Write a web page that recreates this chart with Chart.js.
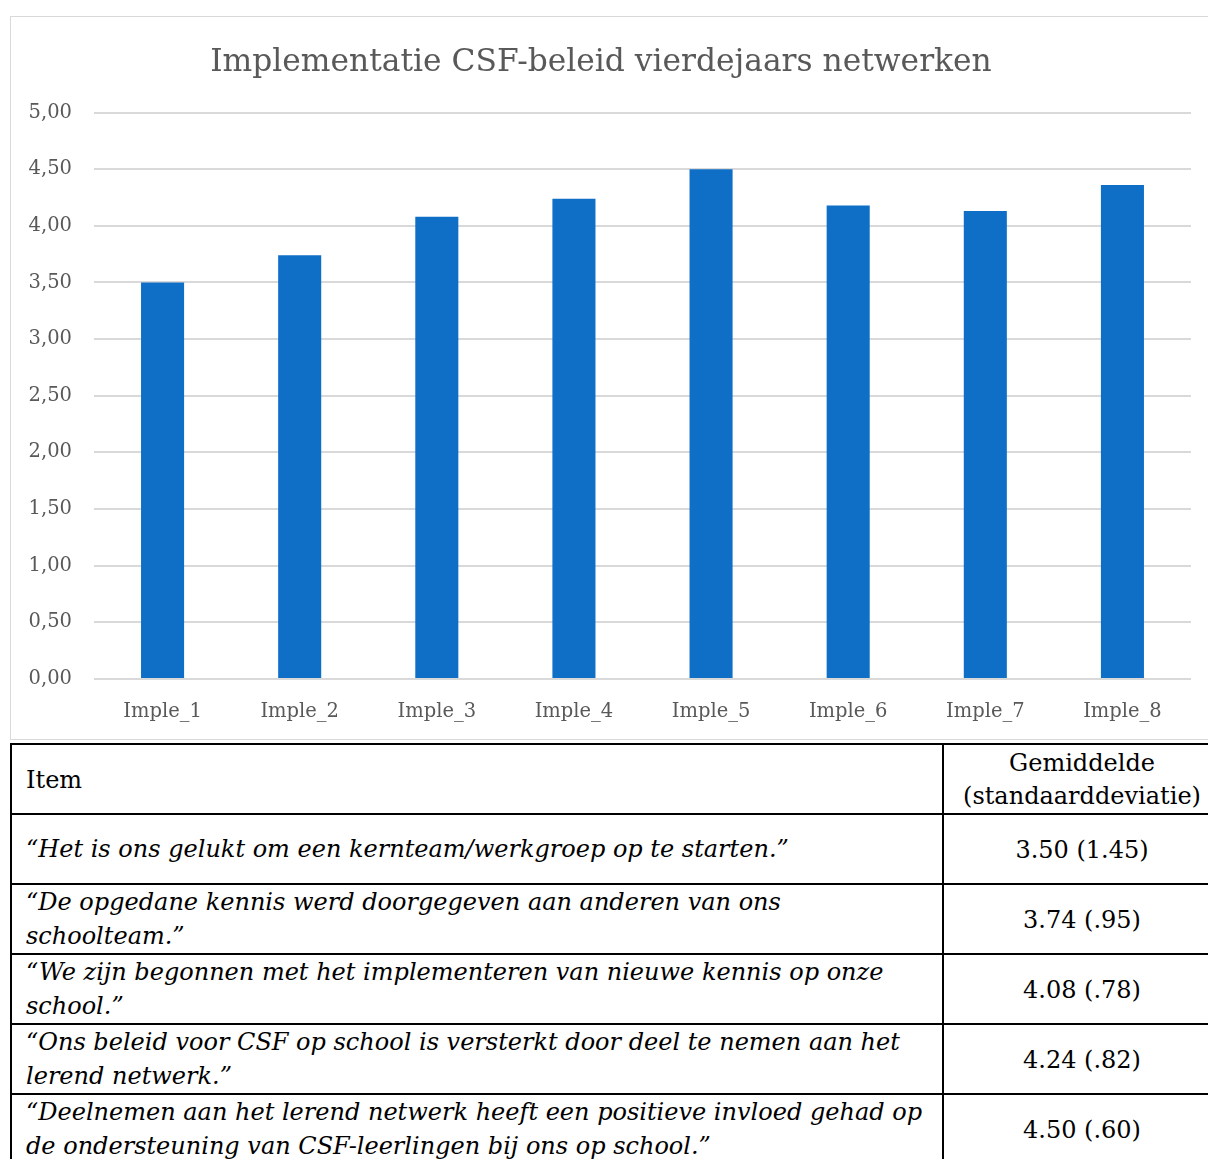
<!DOCTYPE html>
<html>
<head>
<meta charset="utf-8">
<script src="https://cdn.jsdelivr.net/npm/chart.js@4"></script>
<style>
  html, body { margin: 0; padding: 0; background: #fff; width: 1208px; height: 1159px; overflow: hidden; position: relative; }
  #frame { position: absolute; left: 10px; top: 16px; width: 1210px; height: 724px; border: 1px solid #d9d9d9; box-sizing: border-box; }
  #frame canvas { display: block; }
  #tbl { position: absolute; left: 10px; top: 743px; width: 1212px; border-collapse: collapse; font-family: "DejaVu Serif", serif; font-size: 24px; color: #000; }
  #tbl td { border: 2px solid #000; height: 70px; box-sizing: border-box; padding: 0 0 0 14px; line-height: 34px; vertical-align: middle; }
  #tbl tr:first-child td { height: 69px; line-height: 33px; padding-top: 2px; }
  #tbl td.v { text-align: center; padding: 2px 0 0 0; font-style: normal; }
  #tbl td.i { font-style: italic; }
</style>
</head>
<body>
<div id="frame"><canvas id="c" width="1208" height="722"></canvas></div>
<table id="tbl">
  <colgroup><col style="width:932px"><col></colgroup>
  <tbody id="tb"></tbody>
</table>
<script>
const categories = ["Imple_1","Imple_2","Imple_3","Imple_4","Imple_5","Imple_6","Imple_7","Imple_8"];
const means = [3.50, 3.74, 4.08, 4.24, 4.50, 4.18, 4.13, 4.36];
const chartTitle = "Implementatie CSF-beleid vierdejaars netwerken";
const tableHeader = ["Item", "Gemiddelde<br>(standaarddeviatie)"];
const itemTexts = [
  "“Het is ons gelukt om een kernteam/werkgroep op te starten.”",
  "“De opgedane kennis werd doorgegeven aan anderen van ons schoolteam.”",
  "“We zijn begonnen met het implementeren van nieuwe kennis op onze school.”",
  "“Ons beleid voor CSF op school is versterkt door deel te nemen aan het lerend netwerk.”",
  "“Deelnemen aan het lerend netwerk heeft een positieve invloed gehad op de ondersteuning van CSF-leerlingen bij ons op school.”"
];
const itemValues = ["3.50 (1.45)", "3.74 (.95)", "4.08 (.78)", "4.24 (.82)", "4.50 (.60)"];

const tb = document.getElementById('tb');
let html = '<tr><td>' + tableHeader[0] + '</td><td class="v">' + tableHeader[1] + '</td></tr>';
itemTexts.forEach((t, i) => {
  html += '<tr><td class="i">' + t + '</td><td class="v">' + itemValues[i] + '</td></tr>';
});
tb.innerHTML = html;

const font = "'DejaVu Serif', serif";
new Chart(document.getElementById('c'), {
  type: 'bar',
  data: {
    labels: categories,
    datasets: [{ data: means, backgroundColor: '#0F6FC6', barPercentage: 0.314, categoryPercentage: 1 }]
  },
  options: {
    responsive: false,
    animation: false,
    layout: { padding: { top: 27, right: 28, left: 0, bottom: 0 } },
    plugins: {
      legend: { display: false },
      tooltip: { enabled: false },
      title: { display: true, text: chartTitle, color: '#595959', font: { family: font, size: 31.3, weight: 'normal' }, padding: { top: 0, bottom: 31 } }
    },
    scales: {
      x: {
        grid: { display: false, drawTicks: false },
        border: { display: false },
        ticks: { color: '#595959', font: { family: font, size: 19.5 }, padding: 21 },
        afterFit: s => { s.height = 60; }
      },
      y: {
        min: 0, max: 5,
        ticks: { stepSize: 0.5, color: '#595959', font: { family: font, size: 19.5 }, padding: 22,
          callback: v => v.toFixed(2).replace('.', ',') },
        grid: { color: '#d9d9d9', lineWidth: 2, drawTicks: false },
        border: { display: false },
        afterFit: s => { s.width = 83; }
      }
    }
  }
});
</script>
</body>
</html>
